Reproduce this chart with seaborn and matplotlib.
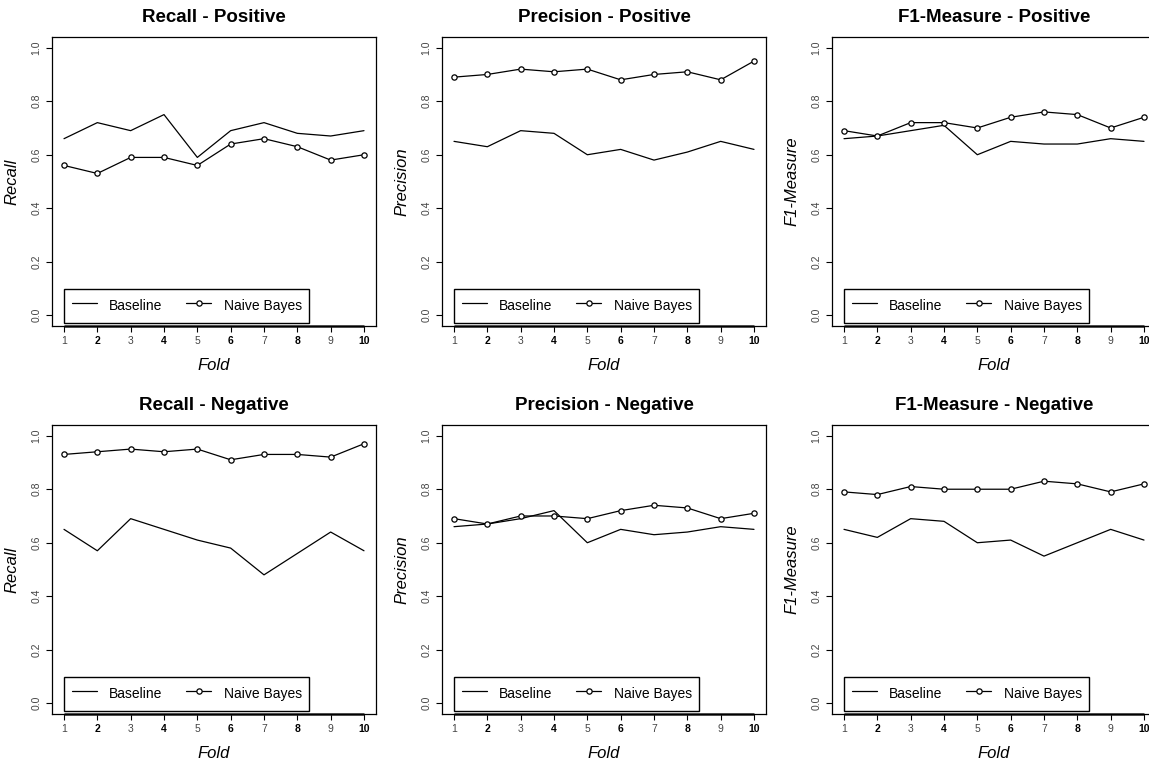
import pandas as pd
import matplotlib.pyplot as plt
from matplotlib.lines import Line2D
import seaborn as sns

FOLDS = list(range(1, 11))

recall_pos_base = [0.66, 0.72, 0.69, 0.75, 0.59, 0.69, 0.72, 0.68, 0.67, 0.69]
recall_pos_nb = [0.56, 0.53, 0.59, 0.59, 0.56, 0.64, 0.66, 0.63, 0.58, 0.60]
prec_pos_base = [0.65, 0.63, 0.69, 0.68, 0.60, 0.62, 0.58, 0.61, 0.65, 0.62]
prec_pos_nb = [0.89, 0.90, 0.92, 0.91, 0.92, 0.88, 0.90, 0.91, 0.88, 0.95]
f1_pos_base = [0.66, 0.67, 0.69, 0.71, 0.60, 0.65, 0.64, 0.64, 0.66, 0.65]
f1_pos_nb = [0.69, 0.67, 0.72, 0.72, 0.70, 0.74, 0.76, 0.75, 0.70, 0.74]

recall_neg_base = [0.65, 0.57, 0.69, 0.65, 0.61, 0.58, 0.48, 0.56, 0.64, 0.57]
recall_neg_nb = [0.93, 0.94, 0.95, 0.94, 0.95, 0.91, 0.93, 0.93, 0.92, 0.97]
prec_neg_base = [0.66, 0.67, 0.69, 0.72, 0.60, 0.65, 0.63, 0.64, 0.66, 0.65]
prec_neg_nb = [0.69, 0.67, 0.70, 0.70, 0.69, 0.72, 0.74, 0.73, 0.69, 0.71]
f1_neg_base = [0.65, 0.62, 0.69, 0.68, 0.60, 0.61, 0.55, 0.60, 0.65, 0.61]
f1_neg_nb = [0.79, 0.78, 0.81, 0.80, 0.80, 0.80, 0.83, 0.82, 0.79, 0.82]

panels = [
    ('Recall - Positive', 'Recall', recall_pos_base, recall_pos_nb),
    ('Precision - Positive', 'Precision', prec_pos_base, prec_pos_nb),
    ('F1-Measure - Positive', 'F1-Measure', f1_pos_base, f1_pos_nb),
    ('Recall - Negative', 'Recall', recall_neg_base, recall_neg_nb),
    ('Precision - Negative', 'Precision', prec_neg_base, prec_neg_nb),
    ('F1-Measure - Negative', 'F1-Measure', f1_neg_base, f1_neg_nb),
]

sns.set_style('ticks')
plt.rcParams['font.family'] = ['Liberation Sans', 'DejaVu Sans']
plt.rcParams['text.color'] = 'black'
plt.rcParams['axes.labelcolor'] = 'black'

W, H = 1149, 760
fig = plt.figure(figsize=(W / 100, H / 100), dpi=100)
lefts = [52, 442, 832]
tops = [37, 425]
box_w, box_h = 324, 289
y_lo, y_hi = -0.04, 1.04
mk = dict(marker='o', markersize=3.8, markerfacecolor='white',
          markeredgecolor='black', markeredgewidth=0.9)

for i, (title, ylabel, base, nb) in enumerate(panels):
    row, col = divmod(i, 3)
    ax = fig.add_axes([lefts[col] / W, 1 - (tops[row] + box_h) / H, box_w / W, box_h / H])
    df = pd.DataFrame({'Fold': FOLDS, 'Baseline': base, 'Naive Bayes': nb})

    sns.lineplot(data=df, x='Fold', y='Baseline', ax=ax, color='black', lw=0.9)
    sns.lineplot(data=df, x='Fold', y='Naive Bayes', ax=ax, color='black', lw=0.9, **mk)

    ax.set_xlim(0.64, 10.36)
    ax.set_ylim(y_lo, y_hi)
    for s in ax.spines.values():
        s.set_visible(True)
        s.set_linewidth(0.9)
        s.set_color('black')
    # thicker axis line under the folds, like R's axis()
    ax.hlines(y_lo, FOLDS[0], FOLDS[-1], color='#222222', lw=1.8, clip_on=False)

    ax.set_xticks(FOLDS)
    ax.set_xticklabels([str(f) for f in FOLDS], fontsize=7.5)
    for f, lab in zip(FOLDS, ax.get_xticklabels()):
        if f % 2 == 0:
            lab.set_fontweight('bold')
            lab.set_color('black')
        else:
            lab.set_color('#444444')
    ax.set_yticks([0.0, 0.2, 0.4, 0.6, 0.8, 1.0])
    ax.set_yticklabels(['0.0', '0.2', '0.4', '0.6', '0.8', '1.0'], fontsize=7.5,
                       rotation=90, va='center', color='#444444')
    ax.tick_params(axis='both', direction='out', length=4.5, width=0.8, color='black', pad=3)

    ax.set_title(title, fontsize=13.5, fontweight='bold', pad=11)
    ax.set_xlabel('Fold', fontsize=12, style='italic', labelpad=8)
    ax.set_ylabel(ylabel, fontsize=12, style='italic', labelpad=9)

    handles = [
        Line2D([], [], color='black', lw=0.9),
        Line2D([], [], color='black', lw=0.9, **mk),
    ]
    leg = ax.legend(handles, ['Baseline', 'Naive Bayes'], loc='upper left',
                    bbox_to_anchor=(FOLDS[0], 0.1), bbox_transform=ax.transData,
                    ncol=2, frameon=True, fancybox=False, edgecolor='black',
                    framealpha=1, fontsize=10, handlelength=1.8, handleheight=1.7,
                    handletextpad=0.9, columnspacing=1.7, borderpad=0.55,
                    borderaxespad=0)
    leg.get_frame().set_linewidth(1.0)

fig.savefig('out.png', dpi=100)
